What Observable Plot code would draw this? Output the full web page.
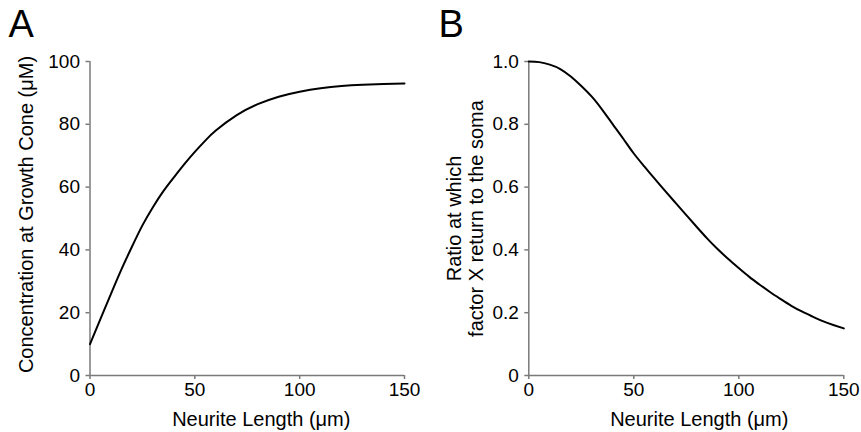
<!DOCTYPE html>
<html>
<head>
<meta charset="utf-8">
<script src="https://cdn.jsdelivr.net/npm/d3@7"></script>
<script src="https://cdn.jsdelivr.net/npm/@observablehq/plot@0.6"></script>
<style>
  html, body { margin: 0; padding: 0; background: white; }
  #wrap { display: flex; width: 861px; height: 432px; }
  #wrap svg g[aria-label="x-axis tick label"],
  #wrap svg g[aria-label="y-axis tick label"],
  #wrap svg g[aria-label="x-axis tick label"] text,
  #wrap svg g[aria-label="y-axis tick label"] text { font-size: 19px !important; }
</style>
</head>
<body>
<div id="wrap"></div>
<script>
// Panel A: concentration at growth cone vs neurite length
const lengthA = [0, 5, 10, 15, 20, 25, 30, 35, 40, 45, 50, 55, 60, 70, 80, 90, 100, 110, 120, 130, 140, 150];
const concA   = [10, 18, 26, 33.8, 41, 47.8, 53.6, 58.7, 63.1, 67.3, 71.2, 74.8, 78, 82.9, 86.4, 88.8, 90.4, 91.5, 92.2, 92.6, 92.85, 93];

// Panel B: ratio at which factor X returns to the soma
const lengthB = [0, 5, 10, 15, 20, 25, 30, 35, 40, 45, 50, 55, 60, 65, 70, 75, 80, 85, 90, 95, 100, 105, 110, 115, 120, 125, 130, 135, 140, 145, 150];
const ratioB  = [1.0, 0.998, 0.99, 0.976, 0.952, 0.922, 0.888, 0.846, 0.8, 0.754, 0.707, 0.666, 0.626, 0.587, 0.549, 0.511, 0.473, 0.436, 0.402, 0.371, 0.342, 0.314, 0.289, 0.265, 0.243, 0.222, 0.204, 0.188, 0.173, 0.161, 0.15];

const xTicks = [0, 50, 100, 150];
const yTicksA = [0, 20, 40, 60, 80, 100];
const yTicksB = [0, 0.2, 0.4, 0.6, 0.8, 1.0];

const xLabel = "Neurite Length (μm)";
const yLabelA = "Concentration at Growth Cone (μM)";
const yLabelB = "Ratio at which\nfactor X return to the soma";

const dataA = lengthA.map((x, i) => ({x, y: concA[i]}));
const dataB = lengthB.map((x, i) => ({x, y: ratioB[i]}));

const font = "'Liberation Sans', Arial, Helvetica, sans-serif";
const axisGray = "#7a7a7a";

function panel({width, marginLeft, marginRight, data, yDomain, yTicks, yFormat, yLabel, letter, xLabelDx, yLabelDx, yLabelDy}) {
  const marginTop = 61, marginBottom = 57, height = 432;
  return Plot.plot({
    width, height, marginLeft, marginRight, marginTop, marginBottom,
    style: {fontFamily: font, fontSize: "19px", background: "white", color: "black", overflow: "visible"},
    x: {domain: [0, 150]},
    y: {domain: yDomain},
    marks: [
      Plot.ruleX([0], {stroke: axisGray, strokeWidth: 1.5}),
      Plot.ruleY([yDomain[0]], {stroke: axisGray, strokeWidth: 1.5}),
      Plot.axisX({ticks: xTicks, tickSize: 4, text: null, stroke: axisGray, strokeWidth: 1.5, label: null}),
      Plot.axisX({ticks: xTicks, tickSize: 0, tickPadding: 7, fill: "black", label: null, fontSize: 19}),
      Plot.axisY({ticks: yTicks, tickSize: 4, text: null, stroke: axisGray, strokeWidth: 1.5, label: null}),
      Plot.axisY({ticks: yTicks, tickSize: 0, tickPadding: 10, tickFormat: yFormat, fill: "black", label: null, fontSize: 19}),
      Plot.line(data, {x: "x", y: "y", stroke: "black", strokeWidth: 2, curve: "natural"}),
      Plot.text([xLabel], {text: d => d, frameAnchor: "bottom", textAnchor: "middle", lineAnchor: "top", dy: 36, dx: xLabelDx, fontSize: 20, fill: "black"}),
      Plot.text([yLabel], {text: d => d, frameAnchor: "left", textAnchor: "middle", lineAnchor: "middle", rotate: -90, dx: yLabelDx, dy: yLabelDy, fontSize: 20, lineHeight: 1.1, fill: "black"}),
      Plot.text([letter], {text: d => d, frameAnchor: "top-left", textAnchor: "start", lineAnchor: "top", dx: 8 - marginLeft, dy: 10 - marginTop, fontSize: 38, fill: "black"})
    ]
  });
}

const wrap = document.getElementById("wrap");
wrap.appendChild(panel({
  width: 430, marginLeft: 89.5, marginRight: 26, data: dataA,
  yDomain: [0, 100], yTicks: yTicksA, yFormat: d => String(d), yLabel: yLabelA, letter: "A",
  xLabelDx: 14, yLabelDx: 25 - 89.5, yLabelDy: -4
}));
wrap.appendChild(panel({
  width: 431, marginLeft: 98.3, marginRight: 17.7, data: dataB,
  yDomain: [0, 1], yTicks: yTicksB, yFormat: d => d === 0 ? "0" : d.toFixed(1), yLabel: yLabelB, letter: "B",
  xLabelDx: 13, yLabelDx: 464 - 528.3, yLabelDy: 0
}));
</script>
</body>
</html>
